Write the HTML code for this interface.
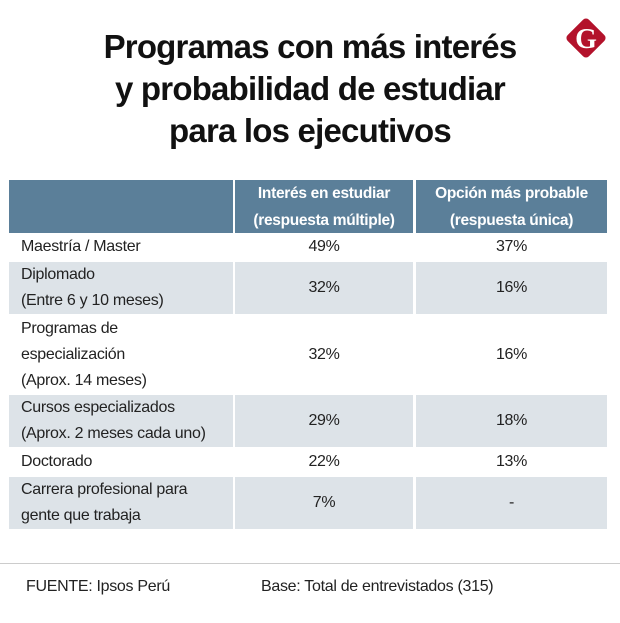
<!DOCTYPE html>
<html><head><meta charset="utf-8"><style>
body{margin:0;width:620px;height:623px;background:#fff;position:relative;overflow:hidden;font-family:"Liberation Sans",sans-serif;color:#222}
.t{position:absolute;left:0;width:620px;text-align:center;font-weight:bold;font-size:33px;color:#111;letter-spacing:-0.8px}
.c{position:absolute;box-sizing:border-box;display:flex;align-items:center;font-size:16px;line-height:26px;letter-spacing:-0.3px}
.h{background:#5b7f99;color:#fff;font-weight:bold;justify-content:center;text-align:center;line-height:27px;font-size:15.5px}
.g{background:#dde3e8}
.l{padding-left:12px}
.n{justify-content:center}
.f{position:absolute;top:578px;font-size:16px;color:#222;letter-spacing:-0.3px}
</style></head><body>
<div class="t" style="top:28px">Programas con más interés</div>
<div class="t" style="top:70px">y probabilidad de estudiar</div>
<div class="t" style="top:112px">para los ejecutivos</div>
<svg style="position:absolute;left:562px;top:14px" width="48" height="48" viewBox="0 0 48 48">
<rect x="9" y="9" width="30" height="30" rx="4" fill="#b3122b" transform="rotate(45 24 24)"/>
<text x="24" y="34" text-anchor="middle" font-family="Liberation Serif,serif" font-weight="bold" font-size="28" fill="#fff">G</text>
</svg>
<div id="tbl"></div>
<div style="position:absolute;left:0;top:563px;width:620px;height:1px;background:#ccc"></div>
<div class="f" style="left:26px">FUENTE: Ipsos Perú</div>
<div class="f" style="left:261px">Base: Total de entrevistados (315)</div>
<script>
const categories=["Maestría / Master","Diplomado<br>(Entre 6 y 10 meses)","Programas de<br>especialización<br>(Aprox. 14 meses)","Cursos especializados<br>(Aprox. 2 meses cada uno)","Doctorado","Carrera profesional para<br>gente que trabaja"];
const interes=["49%","32%","32%","29%","22%","7%"];
const probable=["37%","16%","16%","18%","13%","-"];
const headers=["Interés en estudiar<br>(respuesta múltiple)","Opción más probable<br>(respuesta única)"];
const tbl=document.getElementById('tbl');
const cols=[[9,224],[235,178],[416,191]];
function cell(x,y,w,h,cls,html,name){
  const d=document.createElement('div');
  d.className='c '+cls;
  d.style.left=x+'px';d.style.top=y+'px';d.style.width=w+'px';d.style.height=h+'px';
  d.innerHTML=html;
  
  
  tbl.appendChild(d);
}
cell(cols[0][0],180,cols[0][1],53,'h','','header-blank');
cell(cols[1][0],180,cols[1][1],53,'h',headers[0],'header-interes');
cell(cols[2][0],180,cols[2][1],53,'h',headers[1],'header-probable');
let y=234;
categories.forEach((c,i)=>{
  const lines=c.split('<br>').length;
  const h=Math.round(lines*25.8);
  const g=i%2===1?'g':'';
  cell(cols[0][0],y,cols[0][1],h,'l '+g,c,'row-label');
  cell(cols[1][0],y,cols[1][1],h,'n '+g,interes[i],'interes-value');
  cell(cols[2][0],y,cols[2][1],h,'n '+g,probable[i],'probable-value');
  y+=h+2;
});
</script>
</body></html>
